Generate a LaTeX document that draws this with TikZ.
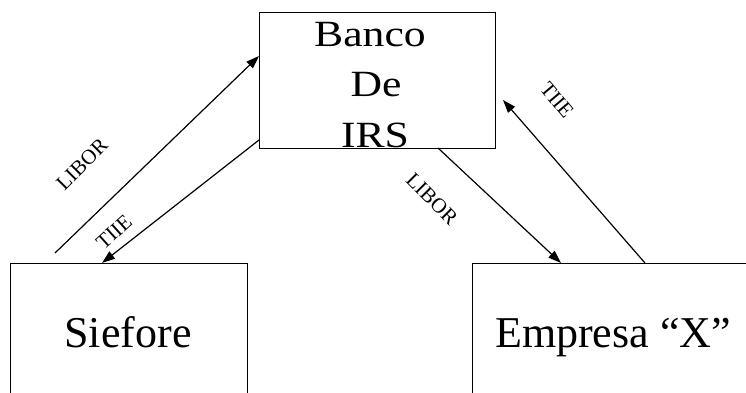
\documentclass[tikz,border=0pt]{standalone}
\usepackage{fontspec}
\setmainfont{Liberation Serif}
\usetikzlibrary{arrows.meta}
\tikzset{
  boxnode/.style={draw=black,line width=1pt,inner sep=0pt,rectangle},
  bigtext/.style={font=\fontsize{44}{50}\selectfont,inner sep=0pt,anchor=base},
  bantext/.style={font=\fontsize{37}{50}\selectfont,inner sep=0pt,anchor=base,xscale=1.18},
  lbl/.style={font=\fontsize{21}{22}\selectfont,inner sep=0pt},
  flow/.style={line width=1.2pt,-{Triangle[length=13pt,width=9pt]}}
}
\begin{document}
\begin{tikzpicture}[x=1pt,y=-1pt]
\useasboundingbox[fill=white] (0,0) rectangle (746,393);
\clip (0,0) rectangle (746,393);
% boxes
\node[boxnode,minimum width=236pt,minimum height=135pt] (banco) at (377,80.5) {};
\node[boxnode,minimum width=237pt,minimum height=200pt] (sief) at (128.5,363) {};
\node[boxnode,minimum width=330pt,minimum height=200pt] (emp) at (637,363) {};
% texts
\node[bantext] (t1) at (370,47) {Banco};
\node[bantext] (t2) at (376,97) {De};
\node[bantext] (t3) at (375,147) {IRS};
\node[bigtext] (ts) at (128,347) {Siefore};
\node[bigtext] (te) at (613,347) {Empresa “X”};
% connector ends
\coordinate (a1s) at (55,253);
\coordinate (a1e) at (259,56);
\coordinate (a2s) at (259,140);
\coordinate (a2e) at (102,263);
\coordinate (a3s) at (438,148);
\coordinate (a3e) at (561,263);
\coordinate (a4s) at (645,263);
\coordinate (a4e) at (503,100);
\draw[flow] (a1s) -- (a1e);
\draw[flow] (a2s) -- (a2e);
\draw[flow] (a3s) -- (a3e);
\draw[flow] (a4s) -- (a4e);
% labels
\node[lbl,rotate=45] (l1) at (82,164) {LIBOR};
\node[lbl,rotate=42] (l2) at (114,232) {TIIE};
\node[lbl,rotate=-45] (l3) at (432,199) {LIBOR};
\node[lbl,rotate=-50] (l4) at (557,100) {TIIE};
\end{tikzpicture}
\end{document}
